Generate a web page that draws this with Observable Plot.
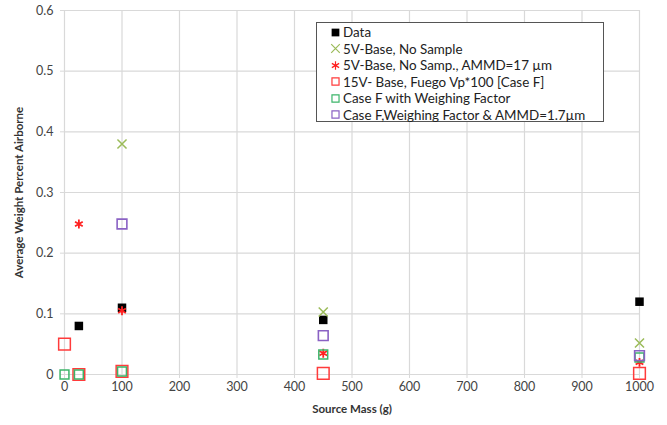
<!DOCTYPE html>
<html>
<head>
<meta charset="utf-8">
<script src="https://cdn.jsdelivr.net/npm/d3@7"></script>
<script src="https://cdn.jsdelivr.net/npm/@observablehq/plot@0.6"></script>
<style>
  body { margin: 0; background: #fff; }
  #wrap { position: relative; width: 667px; height: 425px; font-family: Lato, "Open Sans", sans-serif; }
  #wrap svg g[aria-label="x-axis label"] text,
  #wrap svg g[aria-label="y-axis label"] text { font-weight: bold; fill: #333; font-size: 11.5px; }
  #legend { position: absolute; left: 316px; top: 22px; width: 288px; height: 100px; border: 1px solid #555;
    background: #fff; box-sizing: border-box; padding: 1px 0 0 13px; font-size: 13.4px; color: #222; }
  #legend .row { height: 16.5px; line-height: 16.5px; white-space: nowrap; display: flex; align-items: center; }
  #legend svg { width: 11px; height: 11px; margin-right: 2px; flex: none; }
</style>
</head>
<body>
<div id="wrap"></div>
<script>
const masses = [0, 25, 100, 450, 1000];
const seriesNames = [
  "Data",
  "5V-Base, No Sample",
  "5V-Base, No Samp., AMMD=17 µm",
  "15V- Base, Fuego Vp*100 [Case F]",
  "Case F with Weighing Factor",
  "Case F,Weighing Factor & AMMD=1.7µm"
];
const dataValues      = [null, 0.08, 0.11, 0.09, 0.12];
const noSampleValues  = [null, null, 0.38, 0.103, 0.052];
const ammd17Values    = [null, 0.248, 0.105, 0.035, 0.02];
const caseFValues     = [0.05, 0.0, 0.005, 0.002, 0.002];
const caseFWeighValues= [0.0, 0.0, 0.005, 0.033, 0.028];
const caseFAmmdValues = [null, null, 0.248, 0.064, 0.031];
const xTicks = [0, 100, 200, 300, 400, 500, 600, 700, 800, 900, 1000];
const yTicks = [0, 0.1, 0.2, 0.3, 0.4, 0.5, 0.6];

const allValues = [dataValues, noSampleValues, ammd17Values, caseFValues, caseFWeighValues, caseFAmmdValues];
const styles = [
  {symbol: "square", fill: "#000", stroke: "none", r: 4.8, strokeWidth: 0},
  {symbol: "times", fill: "none", stroke: "#9bbb59", r: 4.2, strokeWidth: 1.5},
  {symbol: "asterisk", fill: "none", stroke: "#ff2020", r: 4.2, strokeWidth: 1.8},
  {symbol: "square", fill: "none", stroke: "#ff3b3b", r: 6.6, strokeWidth: 1.5},
  {symbol: "square", fill: "none", stroke: "#3cb56a", r: 5.0, strokeWidth: 1.5},
  {symbol: "square", fill: "none", stroke: "#8a62c4", r: 5.5, strokeWidth: 1.6}
];
const d3Symbols = {square: d3.symbolSquare, times: d3.symbolTimes, asterisk: d3.symbolAsterisk};

const seriesRows = allValues.map(vals =>
  masses.map((m, i) => ({x: m, y: vals[i]})).filter(d => d.y != null)
);

const plot = Plot.plot({
  width: 667,
  height: 425,
  marginLeft: 64,
  marginRight: 28,
  marginTop: 10,
  marginBottom: 51,
  style: {fontFamily: "Lato, 'Open Sans', sans-serif", fontSize: "12.5px", color: "#444"},
  x: {domain: [0, 1000]},
  y: {domain: [0, 0.6]},
  marks: [
    Plot.gridX(xTicks, {stroke: "#d9d9d9", strokeOpacity: 1, strokeWidth: 1.2}),
    Plot.gridY(yTicks, {stroke: "#d9d9d9", strokeOpacity: 1, strokeWidth: 1.2}),
    Plot.axisX({ticks: xTicks, tickSize: 4, tickPadding: 4, stroke: "#d9d9d9", label: "Source Mass (g)",
      tickFormat: d => String(d),
      labelAnchor: "center", labelArrow: "none", labelOffset: 38, fill: "#444"}),
    Plot.axisY({ticks: yTicks, tickSize: 4, tickPadding: 7, stroke: "#d9d9d9",
      tickFormat: d => d === 0 ? "0" : d.toFixed(1),
      label: "Average Weight Percent Airborne", labelAnchor: "center", labelArrow: "none", labelOffset: 50, fill: "#444"}),
    ...seriesRows.map((rows, k) => Plot.dot(rows, {x: "x", y: "y", ...styles[k]}))
  ]
});

const wrap = document.getElementById("wrap");
wrap.appendChild(plot);

const legend = document.createElement("div");
legend.id = "legend";
seriesNames.forEach((name, k) => {
  const s = styles[k];
  const row = document.createElement("div");
  row.className = "row";
  const sym = d3.symbol(d3Symbols[s.symbol], k === 0 ? 60 : 50)();
  row.innerHTML = `<svg viewBox="-5.5 -5.5 11 11"><path d="${sym}" fill="${s.fill}" stroke="${s.stroke}" stroke-width="${k === 0 ? 0 : 1.2}"></path></svg><span>${name}</span>`;
  legend.appendChild(row);
});
wrap.appendChild(legend);
</script>
</body>
</html>
